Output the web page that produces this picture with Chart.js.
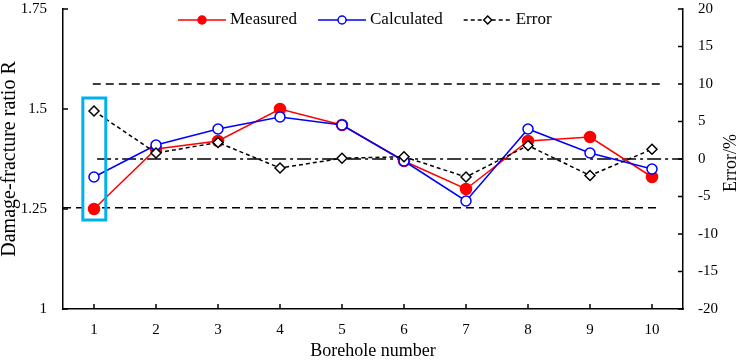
<!DOCTYPE html>
<html>
<head>
<meta charset="utf-8">
<script src="https://cdn.jsdelivr.net/npm/chart.js@4/dist/chart.umd.min.js"></script>
<style>
  body { margin: 0; background: #fff; }
  canvas { display: block; }
</style>
</head>
<body>
<canvas id="chart" width="740" height="362"></canvas>
<script>
var boreholes = ['1', '2', '3', '4', '5', '6', '7', '8', '9', '10'];
var measured = [1.25, 1.40, 1.42, 1.50, 1.46, 1.37, 1.30, 1.42, 1.43, 1.33];
var calculated = [1.33, 1.41, 1.45, 1.48, 1.46, 1.37, 1.27, 1.45, 1.39, 1.35];
var errorPct = [6.4, 0.8, 2.2, -1.2, 0.1, 0.3, -2.4, 1.8, -2.2, 1.3];

// reference lines on the error axis: value, x range in category units, dash
var refLines = [
    { value: 10, from: -0.02, to: 9.13, dash: [8, 5] },
    { value: -6.5, from: -0.5, to: 9.13, dash: [8, 5] },
    { value: 0, from: 0.05, to: 9.5, dash: [14, 4, 3, 4] }
];
// highlight box around borehole 1 (category units / ratio units)
var boxX = [-0.18, 0.19];
var boxY = [1.2225, 1.5275];

var FONT = '"Liberation Serif", "Times New Roman", serif';

var decorPlugin = {
    id: 'decor',
    beforeDatasetsDraw(chart) {
        var ctx = chart.ctx;
        var x = chart.scales.x, y1 = chart.scales.y1;
        ctx.save();
        ctx.strokeStyle = '#000';
        ctx.lineWidth = 1.5;
        refLines.forEach(line => {
            var py = y1.getPixelForValue(line.value);
            ctx.setLineDash(line.dash);
            ctx.beginPath();
            ctx.moveTo(x.getPixelForValue(line.from), py);
            ctx.lineTo(x.getPixelForValue(line.to), py);
            ctx.stroke();
        });
        ctx.restore();
    },
    afterDatasetsDraw(chart) {
        var ctx = chart.ctx;
        var area = chart.chartArea;
        var x = chart.scales.x, y = chart.scales.y, y1 = chart.scales.y1;
        ctx.save();

        // inward tick marks
        ctx.strokeStyle = '#000';
        ctx.lineWidth = 1.5;
        ctx.beginPath();
        x.ticks.forEach((t, i) => {
            var px = x.getPixelForTick(i);
            ctx.moveTo(px, area.bottom);
            ctx.lineTo(px, area.bottom - 5);
        });
        y.ticks.forEach((t, i) => {
            var py = y.getPixelForTick(i);
            ctx.moveTo(area.left, py);
            ctx.lineTo(area.left + 5, py);
        });
        y1.ticks.forEach((t, i) => {
            var py = y1.getPixelForTick(i);
            ctx.moveTo(area.right, py);
            ctx.lineTo(area.right - 5, py);
        });
        ctx.stroke();

        // highlight box
        ctx.strokeStyle = '#00b0f0';
        ctx.lineWidth = 3;
        var bx0 = x.getPixelForValue(boxX[0]), bx1 = x.getPixelForValue(boxX[1]);
        var by0 = y.getPixelForValue(boxY[1]), by1 = y.getPixelForValue(boxY[0]);
        ctx.strokeRect(bx0, by0, bx1 - bx0, by1 - by0);

        // legend inside the plot
        ctx.font = '17px ' + FONT;
        ctx.textBaseline = 'middle';
        ctx.fillStyle = '#000';
        var lx = area.left + 115;
        var ly = area.top + 11;
        chart.data.datasets.forEach(ds => {
            ctx.save();
            ctx.strokeStyle = ds.borderColor;
            ctx.lineWidth = 1.5;
            ctx.setLineDash(ds.borderDash || []);
            ctx.beginPath();
            ctx.moveTo(lx, ly);
            ctx.lineTo(lx + 48, ly);
            ctx.stroke();
            ctx.setLineDash([]);
            ctx.fillStyle = ds.pointBackgroundColor;
            ctx.beginPath();
            if (ds.pointStyle === 'rectRot') {
                var r = 4;
                ctx.moveTo(lx + 24, ly - r);
                ctx.lineTo(lx + 24 + r, ly);
                ctx.lineTo(lx + 24, ly + r);
                ctx.lineTo(lx + 24 - r, ly);
                ctx.closePath();
            } else {
                ctx.arc(lx + 24, ly, 4, 0, Math.PI * 2);
            }
            ctx.fill();
            ctx.stroke();
            ctx.restore();
            ctx.fillText(ds.label, lx + 52, ly);
            lx += 52 + ctx.measureText(ds.label).width + 21;
        });

        // right axis title, reading bottom to top
        ctx.font = '18px ' + FONT;
        ctx.textAlign = 'center';
        ctx.translate(731, (area.top + area.bottom) / 2 + 4);
        ctx.rotate(-Math.PI / 2);
        ctx.fillText('Error/%', 0, 0);
        ctx.restore();
    }
};

var ctx = document.getElementById('chart').getContext('2d');
var chart = new Chart(ctx, {
    type: 'line',
    data: {
        labels: boreholes,
        datasets: [
            {
                label: 'Measured',
                data: measured,
                yAxisID: 'y',
                borderColor: '#ff0000',
                borderWidth: 1.5,
                pointStyle: 'circle',
                pointRadius: 5.5,
                pointBackgroundColor: '#ff0000',
                pointBorderColor: '#ff0000',
                order: 2
            },
            {
                label: 'Calculated',
                data: calculated,
                yAxisID: 'y',
                borderColor: '#0000ff',
                borderWidth: 1.5,
                pointStyle: 'circle',
                pointRadius: 5,
                pointBorderWidth: 1.5,
                pointBackgroundColor: '#ffffff',
                pointBorderColor: '#0000ff',
                order: 1
            },
            {
                label: 'Error',
                data: errorPct,
                yAxisID: 'y1',
                borderColor: '#000000',
                borderWidth: 1.5,
                borderDash: [4, 3],
                pointStyle: 'rectRot',
                pointRadius: 5,
                pointBorderWidth: 1.5,
                pointBackgroundColor: '#ffffff',
                pointBorderColor: '#000000',
                order: 0
            }
        ]
    },
    options: {
        responsive: false,
        animation: false,
        layout: { padding: { top: 9 } },
        plugins: {
            legend: { display: false },
            tooltip: { enabled: false }
        },
        scales: {
            x: {
                offset: true,
                grid: { drawOnChartArea: false, drawTicks: false },
                border: { display: true, color: '#000', width: 1.5 },
                ticks: { color: '#000', font: { family: FONT, size: 15 }, padding: 12, maxRotation: 0 },
                title: {
                    display: true,
                    text: 'Borehole number',
                    color: '#000',
                    font: { family: FONT, size: 18, lineHeight: 1.2 },
                    padding: { top: 0, bottom: 0 }
                },
                afterFit(scale) { scale.height = 53; }
            },
            y: {
                position: 'left',
                min: 1,
                max: 1.75,
                grid: { drawOnChartArea: false, drawTicks: false },
                border: { display: true, color: '#000', width: 1.5 },
                ticks: {
                    stepSize: 0.25,
                    color: '#000',
                    font: { family: FONT, size: 15 },
                    padding: 16,
                    callback: (v) => String(+v.toFixed(2))
                },
                title: {
                    display: true,
                    text: 'Damage-fracture ratio R',
                    color: '#000',
                    font: { family: FONT, size: 20, lineHeight: 1 },
                    padding: { top: 0, bottom: 0 }
                },
                afterFit(scale) {
                    scale.width = 63;
                    scale.paddingTop = 0;
                    scale.paddingBottom = 0;
                }
            },
            y1: {
                position: 'right',
                min: -20,
                max: 20,
                grid: { drawOnChartArea: false, drawTicks: false },
                border: { display: true, color: '#000', width: 1.5 },
                ticks: {
                    stepSize: 5,
                    color: '#000',
                    font: { family: FONT, size: 15 },
                    padding: 15
                },
                afterFit(scale) {
                    scale.width = 57;
                    scale.paddingTop = 0;
                    scale.paddingBottom = 0;
                }
            }
        }
    },
    plugins: [decorPlugin]
});
</script>
</body>
</html>
